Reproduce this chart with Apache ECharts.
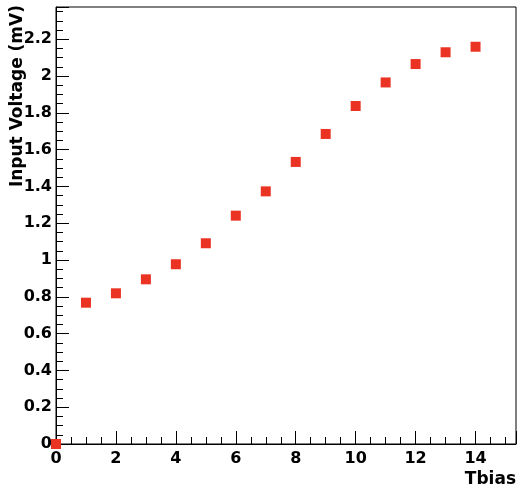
<!DOCTYPE html>
<html>
<head>
<meta charset="utf-8">
<script src="https://cdn.jsdelivr.net/npm/echarts@6/dist/echarts.min.js"></script>
<style>
  html, body { margin: 0; padding: 0; background: #fff; }
  #chart { width: 517px; height: 495px; }
</style>
</head>
<body>
<div id="chart"></div>
<script>
// Input voltage measured for each Tbias setting
const tbias = [0, 1, 2, 3, 4, 5, 6, 7, 8, 9, 10, 11, 12, 13, 14];
const inputVoltage = [0, 0.768, 0.819, 0.895, 0.977, 1.091, 1.241, 1.373, 1.533, 1.685, 1.837, 1.965, 2.065, 2.129, 2.159];
const xTitle = 'Tbias';
const yTitle = 'Input Voltage (mV)';

const X_MAX = 15.35;
const Y_MAX = 2.375;
const labelFont = { fontFamily: 'DejaVu Sans', fontWeight: 'bold', fontSize: 16, color: '#000' };

const chart = echarts.init(document.getElementById('chart'), null, { renderer: 'canvas' });

chart.setOption({
  animation: false,
  backgroundColor: '#fff',
  grid: {
    left: 56, top: 7, width: 460, height: 437,
    show: true, borderColor: '#000', borderWidth: 1, backgroundColor: 'transparent'
  },
  xAxis: {
    type: 'value', min: 0, max: X_MAX, interval: 2,
    axisLine: { show: true, onZero: false, lineStyle: { color: '#000', width: 1 } },
    axisTick: { show: true, inside: true, length: 13, lineStyle: { color: '#000', width: 1 } },
    minorTick: { show: true, splitNumber: 4, length: 7, lineStyle: { color: '#000', width: 1 } },
    splitLine: { show: false },
    axisLabel: Object.assign({ margin: 7, showMaxLabel: false,
      formatter: v => (v > 14.5 ? '' : String(v)) }, labelFont)
  },
  yAxis: {
    type: 'value', min: 0, max: Y_MAX, interval: 0.2,
    axisLine: { show: true, onZero: false, lineStyle: { color: '#000', width: 1 } },
    axisTick: { show: true, inside: true, length: 13, lineStyle: { color: '#000', width: 1 } },
    minorTick: { show: true, splitNumber: 4, length: 7, lineStyle: { color: '#000', width: 1 } },
    splitLine: { show: false },
    axisLabel: Object.assign({ margin: 4, showMaxLabel: false,
      formatter: v => (v > 2.3 ? '' : String(Math.round(v * 10) / 10)) }, labelFont)
  },
  series: [{
    type: 'scatter',
    data: tbias.map((x, i) => [x, inputVoltage[i]]),
    symbol: 'rect',
    symbolSize: 10,
    itemStyle: { color: '#eb3323', opacity: 1 },
    clip: false
  }],
  graphic: [
    {
      type: 'text', x: 516, y: 480,
      style: { text: xTitle, font: 'bold 17px "DejaVu Sans"', fill: '#000',
               textAlign: 'right', textVerticalAlign: 'middle' }
    },
    {
      type: 'text', x: 18, y: 5, rotation: Math.PI / 2,
      style: { text: yTitle, font: 'bold 17px "DejaVu Sans"', fill: '#000',
               textAlign: 'right', textVerticalAlign: 'middle' }
    }
  ]
});
</script>
</body>
</html>
